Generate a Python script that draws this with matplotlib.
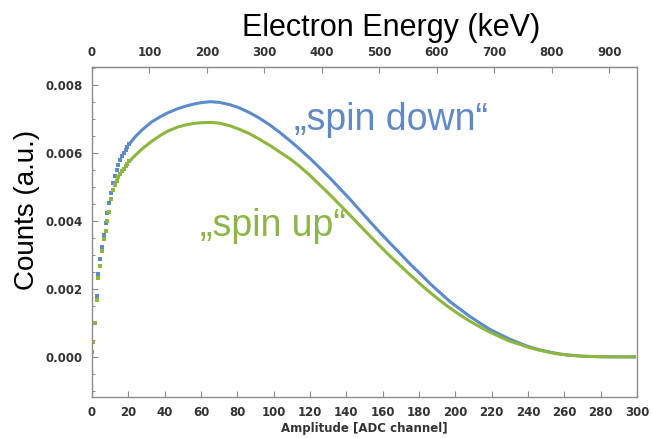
import numpy as np
import matplotlib
matplotlib.use("Agg")
import matplotlib.pyplot as plt
from matplotlib.ticker import MultipleLocator

# data
channel = [0, 0.5, 1.5, 2.5, 3.5, 4.5, 5.5, 6.5, 7.5, 8.5, 9.5, 10.5, 11.5,
           12.5, 13.5, 14.5, 15.5, 16.5, 17.5, 18.5, 19.5, 20.5,
           24, 28, 33, 38, 42, 47, 51, 56, 60, 65, 70, 76, 81, 87, 92, 98,
           103, 109, 114, 120, 125, 131, 136, 142, 147, 153, 158, 164, 170,
           175, 181, 186, 192, 197, 203, 208, 214, 219, 225, 230, 236, 241,
           247, 252, 258, 263, 270, 280, 290, 299.5]

spin_down = [0.00014, 0.00043, 0.00101, 0.00180, 0.00243, 0.00287, 0.00324,
             0.00359, 0.00393, 0.00423, 0.00454, 0.00483, 0.00511,
             0.00532, 0.00550, 0.00565, 0.00578, 0.00590, 0.00600, 0.00609,
             0.00618, 0.00626,
             0.00649, 0.00670, 0.00692, 0.00708, 0.00719, 0.00730, 0.00737,
             0.00744, 0.00748, 0.00751, 0.00749, 0.00742, 0.00733, 0.00718,
             0.00703, 0.00682, 0.00662, 0.00636, 0.00613, 0.00584, 0.00558,
             0.00526, 0.00498, 0.00464, 0.00434, 0.00398, 0.00369, 0.00335,
             0.00302, 0.00274, 0.00243, 0.00216, 0.00187, 0.00163, 0.00139,
             0.00119, 0.00098, 0.00081, 0.00065, 0.00052, 0.00039, 0.00029,
             0.00020, 0.00014, 0.00008, 0.00005, 0.00002, 0.000005, 0.0, 0.0]

spin_up = [0.00014, 0.00043, 0.00101, 0.00168, 0.00231, 0.00268, 0.00313,
           0.00346, 0.00371, 0.00401, 0.00427, 0.00465, 0.00491,
           0.00505, 0.00517, 0.00528, 0.00537, 0.00546, 0.00554, 0.00562,
           0.00569, 0.00575,
           0.00594, 0.00614, 0.00635, 0.00653, 0.00665, 0.00676, 0.00682,
           0.00687, 0.00689, 0.00690, 0.00688, 0.00680, 0.00670, 0.00656,
           0.00641, 0.00622, 0.00604, 0.00583, 0.00562, 0.00534, 0.00508,
           0.00477, 0.00450, 0.00417, 0.00389, 0.00356, 0.00329, 0.00297,
           0.00267, 0.00242, 0.00213, 0.00190, 0.00164, 0.00144, 0.00122,
           0.00105, 0.00087, 0.00073, 0.00058, 0.00046, 0.00036, 0.00027,
           0.00019, 0.00013, 0.00008, 0.00005, 0.00002, 0.000005, 0.0, 0.0]

x_ticks = list(range(0, 301, 20))
y_ticks = [0.000, 0.002, 0.004, 0.006, 0.008]
kev_ticks = list(range(0, 901, 100))
kev_per_channel = 3.16

blue = '#5b8bcb'
green = '#8db63c'
frame = '#8c8c8c'
tickcol = '#333333'

fig = plt.figure(figsize=(6.52, 4.38), dpi=100)
ax = fig.add_axes([0.1411, 0.0936, 0.8359, 0.7534])

ch = np.array(channel)
dots = ch <= 20.5
band = ch >= 20.5
for vals, col in ((spin_down, blue), (spin_up, green)):
    v = np.array(vals)
    # single dots where the channels are still apart, a solid band after that
    ax.plot(ch[dots], v[dots], 's', color=col, ms=2.4, mew=0)
    ax.plot(ch[band], v[band], color=col, lw=2.2, solid_capstyle='butt',
            solid_joinstyle='round')

ax.set_xlim(0, 300)
ax.set_ylim(-0.00118, 0.00853)
ax.set_xticks(x_ticks)
ax.set_yticks(y_ticks)
ax.yaxis.set_minor_locator(MultipleLocator(0.0005))
ax.set_yticklabels(['%.3f' % t for t in y_ticks])

for s in ax.spines.values():
    s.set_color(frame)
    s.set_linewidth(1.0)

tick_font = dict(family='DejaVu Sans', weight='bold', size=8.5)
ax.tick_params(axis='both', which='both', direction='in', color=frame,
               labelcolor=tickcol, top=False, right=False)
ax.tick_params(axis='both', which='major', length=4, width=0.8, pad=6.5)
ax.tick_params(axis='y', which='minor', length=2.5, width=0.7)
for lab in ax.get_xticklabels() + ax.get_yticklabels():
    lab.set_fontproperties(tick_font)
    lab.set_color(tickcol)

top = ax.secondary_xaxis('top', functions=(lambda c: c * kev_per_channel,
                                           lambda e: e / kev_per_channel))
top.set_xticks(kev_ticks)
top.tick_params(direction='in', length=4, width=0.8, color=frame,
                labelcolor=tickcol, pad=6)
top.spines['top'].set_color(frame)
for lab in top.get_xticklabels():
    lab.set_fontproperties(tick_font)
    lab.set_color(tickcol)

ax.set_xlabel('Amplitude [ADC channel]', fontdict=dict(family='DejaVu Sans',
              weight='bold', size=8.5), color=tickcol, labelpad=2)

fig.text(0.60, 0.917, 'Electron Energy (keV)', family='Liberation Sans',
         size=22, ha='center', va='baseline', color='black')
fig.text(0.041, 0.52, 'Counts (a.u.)', family='Liberation Sans', size=20,
         rotation=90, ha='center', va='center', color='black')

ax.text(111, 0.00669, '\u201espin down\u201c', family='Liberation Sans',
        size=27, color='#6189c3', ha='left', va='baseline')
ax.text(59.5, 0.00356, '\u201espin up\u201c', family='Liberation Sans',
        size=27, color='#8db548', ha='left', va='baseline')

fig.savefig('out.png', dpi=100)
